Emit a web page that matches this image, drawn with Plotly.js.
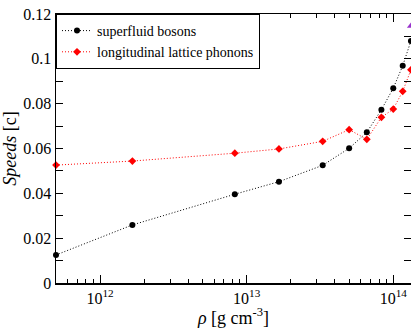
<!DOCTYPE html>
<html>
<head>
<meta charset="utf-8">
<script src="https://cdn.plot.ly/plotly-3.0.1.min.js"></script>
<style>html,body{margin:0;padding:0;background:#fff;}#chart{width:411px;height:328px;}</style>
</head>
<body>
<div id="chart"></div>
<script>
var rho = [5e11, 1.66e12, 8.3e12, 1.66e13, 3.3e13, 5e13, 6.6e13, 8.3e13, 1e14, 1.16e14, 1.32e14];
var bosons = [0.0125, 0.0259, 0.0396, 0.0452, 0.0525, 0.0601, 0.0672, 0.0773, 0.0869, 0.0969, 0.108];
var phonons = [0.0526, 0.0544, 0.0579, 0.0598, 0.0632, 0.0684, 0.0641, 0.0739, 0.0776, 0.0855, 0.0951];
var extraRho = [1.32e14];
var extraSpeed = [0.1147];
var seriesNames = ['superfluid bosons', 'longitudinal lattice phonons'];
var yTickVals = [0, 0.02, 0.04, 0.06, 0.08, 0.1, 0.12];
var yTickText = ['0', '0.02', '0.04', '0.06', '0.08', '0.1', '0.12'];
var xTickVals = [1e12, 1e13, 1e14];
var xTickText = ['10<sup>12</sup>', '10<sup>13</sup>', '10<sup>14</sup>'];
var xMinorVals = [6e11, 7e11, 8e11, 9e11, 2e12, 3e12, 4e12, 5e12, 6e12, 7e12, 8e12, 9e12,
                  2e13, 3e13, 4e13, 5e13, 6e13, 7e13, 8e13, 9e13];

var font = 'Liberation Serif';
var xRange = [Math.log10(5e11), 14.121];
var traces = [
  {x: rho, y: bosons, name: seriesNames[0], mode: 'lines+markers', cliponaxis: false,
   line: {color: '#000', width: 1, dash: '1px,2px'}, marker: {color: '#000', size: 6, symbol: 'circle'}},
  {x: rho, y: phonons, name: seriesNames[1], mode: 'lines+markers', cliponaxis: false,
   line: {color: '#ff0000', width: 1, dash: '1px,2px'}, marker: {color: '#ff0000', size: 6, symbol: 'diamond'}},
  {x: extraRho, y: extraSpeed, mode: 'markers', showlegend: false, cliponaxis: false,
   marker: {color: '#9933cc', size: 7, symbol: 'triangle-up'}},
  {x: extraRho, y: extraSpeed, xaxis: 'x2', mode: 'markers', showlegend: false, hoverinfo: 'skip',
   marker: {opacity: 0}},
  {x: extraRho, y: extraSpeed, xaxis: 'x3', mode: 'markers', showlegend: false, hoverinfo: 'skip',
   marker: {opacity: 0}}
];
var minorAxis = function (side) {
  return {type: 'log', range: xRange, overlaying: 'x', anchor: 'y', side: side, tickmode: 'array',
          tickvals: xMinorVals, showticklabels: false, ticks: 'inside', ticklen: 4, tickcolor: '#000',
          showline: false, showgrid: false, zeroline: false};
};
var layout = {
  width: 411, height: 328,
  margin: {l: 56, r: 0, t: 14, b: 45},
  paper_bgcolor: '#fff', plot_bgcolor: '#fff',
  font: {family: font, color: '#000', size: 15},
  showlegend: true,
  legend: {x: 0, y: 1, xanchor: 'left', yanchor: 'top', bordercolor: '#000', borderwidth: 1,
           bgcolor: '#fff', font: {family: font, size: 14}, tracegroupgap: 0, itemwidth: 30},
  xaxis: {type: 'log', range: xRange, tickmode: 'array', tickvals: xTickVals, ticktext: xTickText,
          showline: true, linecolor: '#000', linewidth: 1.5, mirror: 'allticks', ticks: 'inside', ticklen: 8,
          tickcolor: '#000', showgrid: false, zeroline: false, tickfont: {family: font, size: 16},
          title: {text: '<i>ρ</i> [g cm<sup>-3</sup>]', font: {family: font, size: 18}, standoff: 2}},
  xaxis2: minorAxis('bottom'),
  xaxis3: minorAxis('top'),
  yaxis: {range: [0, 0.12], tickmode: 'array', tickvals: yTickVals, ticktext: yTickText,
          showline: true, linecolor: '#000', linewidth: 1.5, mirror: 'allticks', ticks: 'inside', ticklen: 7,
          tickcolor: '#000', showgrid: false, zeroline: false, tickfont: {family: font, size: 16},
          minor: {ticks: 'inside', ticklen: 4, tickcolor: '#000', dtick: 0.01, showgrid: false},
          title: {text: '<i>Speeds</i> [c]', font: {family: font, size: 18}, standoff: 6}}
};
Plotly.newPlot('chart', traces, layout, {displayModeBar: false, staticPlot: true});
</script>
</body>
</html>
